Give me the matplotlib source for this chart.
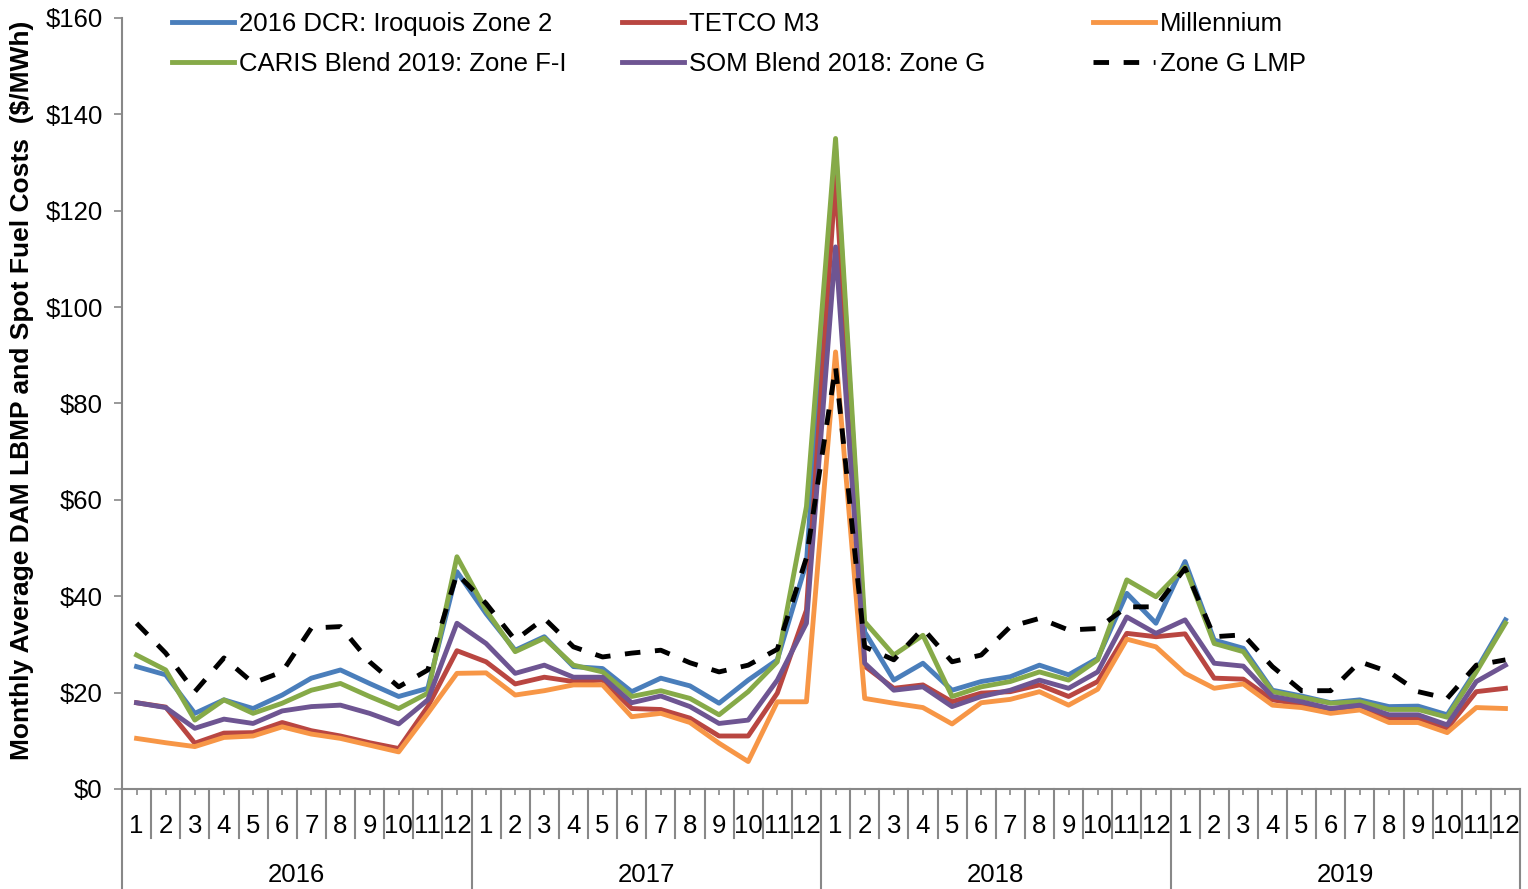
###########
# Imports #
###########
import numpy as np
import matplotlib
matplotlib.use('Agg')
import matplotlib.pyplot as plt
import matplotlib.transforms as mtransforms

########
# Data #
########
years = ['2016', '2017', '2018', '2019']
months = [str(m) for m in range(1, 13)]

dcr_iroquois = [25.4, 23.7, 15.7, 18.5, 16.7, 19.5, 23.0, 24.7, 21.9, 19.2, 20.9, 45.1,
                36.4, 28.8, 31.6, 25.4, 25.0, 20.2, 23.0, 21.4, 17.8, 22.6, 26.8, 47.0,
                133.0, 32.6, 22.6, 26.1, 20.5, 22.3, 23.3, 25.7, 23.7, 27.1, 40.6, 34.4,
                47.2, 30.9, 29.2, 20.5, 19.3, 17.9, 18.5, 17.1, 17.2, 15.4, 24.7, 35.1]
tetco_m3 = [17.9, 17.0, 9.5, 11.6, 11.7, 13.8, 12.1, 11.0, 9.6, 8.4, 17.1, 28.7,
            26.4, 21.8, 23.2, 22.3, 22.6, 16.7, 16.5, 14.7, 11.0, 11.0, 19.9, 37.1,
            127.0, 25.5, 20.9, 21.6, 18.1, 19.9, 20.2, 21.6, 19.2, 22.3, 32.3, 31.6,
            32.2, 23.0, 22.8, 18.5, 17.6, 16.4, 17.2, 14.7, 14.7, 12.6, 20.2, 20.9]
millennium = [10.5, 9.6, 8.8, 10.7, 11.0, 12.9, 11.4, 10.5, 9.1, 7.7, 15.7, 24.0,
              24.1, 19.5, 20.4, 21.6, 21.6, 15.0, 15.7, 13.8, 9.5, 5.7, 18.1, 18.1,
              90.7, 18.8, 17.8, 16.9, 13.5, 17.9, 18.6, 20.2, 17.4, 20.7, 31.1, 29.5,
              24.0, 20.9, 21.8, 17.4, 16.9, 15.7, 16.4, 13.8, 13.8, 11.7, 16.9, 16.7]
caris_blend = [27.8, 24.7, 14.3, 18.5, 15.7, 17.8, 20.5, 21.9, 19.2, 16.7, 19.9, 48.2,
               37.1, 28.5, 31.3, 25.7, 24.3, 19.2, 20.4, 18.8, 15.4, 20.2, 26.4, 58.6,
               135.0, 34.7, 27.8, 31.9, 19.2, 21.2, 22.3, 24.3, 22.6, 26.8, 43.4, 39.9,
               46.1, 30.2, 28.5, 20.2, 19.0, 17.8, 18.1, 16.5, 16.5, 14.9, 24.3, 34.4]
som_blend = [17.9, 16.9, 12.6, 14.5, 13.6, 16.2, 17.1, 17.4, 15.7, 13.5, 18.5, 34.4,
             30.2, 24.0, 25.7, 23.2, 23.2, 17.9, 19.3, 17.1, 13.6, 14.3, 22.6, 34.4,
             112.5, 26.1, 20.5, 21.2, 17.1, 19.2, 20.5, 22.6, 20.9, 24.3, 35.7, 32.3,
             35.1, 26.1, 25.5, 19.2, 18.1, 16.7, 17.4, 15.4, 15.4, 13.3, 22.3, 25.7]
zone_g_lmp = [34.4, 28.2, 20.2, 27.2, 22.0, 24.3, 33.4, 33.7, 26.4, 21.2, 24.7, 44.7,
              38.5, 30.9, 35.4, 29.5, 27.4, 28.2, 28.8, 26.2, 24.3, 25.7, 29.0, 48.0,
              87.6, 29.5, 26.8, 33.3, 26.4, 27.8, 33.7, 35.4, 33.0, 33.3, 37.8, 37.8,
              45.8, 31.6, 32.0, 25.4, 20.4, 20.4, 26.4, 24.3, 20.2, 18.8, 25.7, 26.8]

############
# Plotting #
############
plt.rcParams['font.family'] = ['Liberation Sans', 'DejaVu Sans']
fs = 18.5

fig = plt.figure(figsize=(15.28, 8.89), dpi=100)
ax = fig.add_axes([122 / 1528, 100 / 889, 1398 / 1528, 771 / 889])

x = np.arange(len(dcr_iroquois))
lw = 3.5
l_dcr, = ax.plot(x, dcr_iroquois, color='#4A7EBB', lw=lw, label='2016 DCR: Iroquois Zone 2')
l_tet, = ax.plot(x, tetco_m3, color='#B94641', lw=lw, label='TETCO M3')
l_mil, = ax.plot(x, millennium, color='#F79646', lw=lw, label='Millennium')
l_car, = ax.plot(x, caris_blend, color='#86AA48', lw=lw, label='CARIS Blend 2019: Zone F-I')
l_som, = ax.plot(x, som_blend, color='#6E5592', lw=lw, label='SOM Blend 2018: Zone G')
l_lmp, = ax.plot(x, zone_g_lmp, color='black', lw=lw, dashes=(3.2, 3.0),
                 label='Zone G LMP')

# axes
ax.set_xlim(-0.5, len(x) - 0.5)
ax.set_ylim(0, 160)
ax.set_yticks(np.arange(0, 161, 20))
ax.set_yticklabels([f'${v}' for v in range(0, 161, 20)])
ax.tick_params(axis='y', labelsize=fs, length=6, width=1.2, color='#888888', pad=8)
ax.set_xticks(x)
ax.set_xticklabels(months * len(years))
ax.tick_params(axis='x', labelsize=fs, length=4, width=1.2, color='#888888', pad=14)
for s in ['top', 'right']:
    ax.spines[s].set_visible(False)
for s in ['left', 'bottom']:
    ax.spines[s].set_color('#888888')
    ax.spines[s].set_linewidth(1.5)

ax.set_ylabel('Monthly Average DAM LBMP and Spot Fuel Costs  ($/MWh)',
              fontsize=19, fontweight='bold')
ax.yaxis.set_label_coords(-88 / 1398, 0.517)

# category axis: month cells and year groups
trans = mtransforms.blended_transform_factory(ax.transData, ax.transAxes)
month_depth = -49 / 771
year_depth = -100 / 771
for b in np.arange(-0.5, len(x), 1.0):
    is_year = (b + 0.5) % 12 == 0
    ax.plot([b, b], [0, year_depth if is_year else month_depth], transform=trans,
            color='#888888', lw=1.5, clip_on=False)
for i, yr in enumerate(years):
    ax.text(i * 12 + 5.5, -86 / 771, yr, transform=trans, ha='center', va='center',
            fontsize=fs)

# legend, three columns
cols = [([l_dcr, l_car], 172), ([l_tet, l_som], 622), ([l_mil, l_lmp], 1093)]
for handles, px in cols:
    leg = fig.legend(handles=handles, loc='upper left',
                     bbox_to_anchor=(px / 1528, 1 - 12 / 889),
                     frameon=False, fontsize=fs, handlelength=2.4,
                     handletextpad=0.2, labelspacing=0.62,
                     borderpad=0, borderaxespad=0)

fig.savefig('out.png', dpi=100)
